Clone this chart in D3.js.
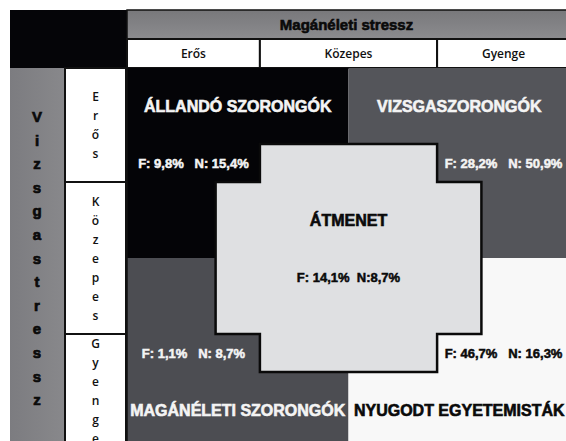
<!DOCTYPE html>
<html>
<head>
<meta charset="utf-8">
<script src="https://cdn.jsdelivr.net/npm/d3@7"></script>
<style>
  html, body { margin: 0; padding: 0; background: #fff; }
  svg { display: block; }
  text { white-space: pre; }
</style>
</head>
<body>
<div id="chart"></div>
<script>
// column / row categories
const headerTitle = "Magánéleti stressz";
const sideTitle = "Vizsgastressz";
const colLabels = ["Erős", "Közepes", "Gyenge"];
const rowLabels = ["Erős", "Közepes", "Gyenge"];

// groups: four corners + centre
const groupNames = ["ÁLLANDÓ SZORONGÓK", "VIZSGASZORONGÓK", "MAGÁNÉLETI SZORONGÓK", "NYUGODT EGYETEMISTÁK", "ÁTMENET"];
const groupF = [9.8, 28.2, 1.1, 46.7, 14.1];
const groupN = [15.4, 50.9, 8.7, 16.3, 8.7];

const width = 566, height = 441;

const svg = d3.select("#chart")
  .append("svg")
  .attr("width", width)
  .attr("height", height);

// grid units: 0..2 in both directions, middle band is 0.6..1.4
const x = d3.scaleLinear().domain([0, 2]).range([127, 570]);
const y = d3.scaleLinear().domain([0, 2]).range([68, 448]);
const bandEdges = [0, 0.6, 1.4, 2];
const crossOuter = 0.6, crossInner = 0.4;

const fmt = d3.formatLocale({ decimal: ",", thousands: " ", grouping: [3], currency: ["", ""] }).format(".1f");
const heavy = "'Liberation Sans', Arial, sans-serif";
const light = "'Open Sans', 'Noto Sans', sans-serif";

// top left black block
svg.append("rect")
  .attr("x", 10).attr("y", 10)
  .attr("width", x(0) - 10).attr("height", y(0) - 10)
  .attr("fill", "#050508");

// header gray bar
const grad = svg.append("defs").append("linearGradient")
  .attr("id", "hdr").attr("x1", 0).attr("y1", 0).attr("x2", 0).attr("y2", 1);
grad.append("stop").attr("offset", 0).attr("stop-color", "#78787b");
grad.append("stop").attr("offset", 1).attr("stop-color", "#8c8c8f");

svg.append("rect")
  .attr("x", x(0)).attr("y", 10)
  .attr("width", x(2) - x(0)).attr("height", 29)
  .attr("fill", "url(#hdr)")
  .attr("stroke", "#111").attr("stroke-width", 1.5);

svg.append("text")
  .attr("x", x(1) - 2).attr("y", 24)
  .attr("text-anchor", "middle").attr("dominant-baseline", "central")
  .attr("font-family", heavy).attr("font-weight", "bold").attr("font-size", 15)
  .attr("fill", "#0a0a0a").attr("stroke", "#0a0a0a").attr("stroke-width", 0.6)
  .text(headerTitle);

// column header cells
const colG = svg.append("g");
colLabels.forEach((lab, i) => {
  const x0 = x(bandEdges[i]), x1 = x(bandEdges[i + 1]);
  colG.append("rect")
    .attr("x", x0).attr("y", 39)
    .attr("width", x1 - x0).attr("height", y(0) - 39)
    .attr("fill", "#fff").attr("stroke", "#111").attr("stroke-width", 2);
  colG.append("text")
    .attr("x", (x0 + x1) / 2).attr("y", 53)
    .attr("text-anchor", "middle").attr("dominant-baseline", "central")
    .attr("font-family", light).attr("font-weight", 600).attr("font-size", 12).attr("fill", "#111")
    .text(lab);
});

// left gray side column
const grad2 = svg.select("defs").append("linearGradient")
  .attr("id", "side").attr("x1", 0).attr("y1", 0).attr("x2", 1).attr("y2", 0);
grad2.append("stop").attr("offset", 0).attr("stop-color", "#7c7c80");
grad2.append("stop").attr("offset", 1).attr("stop-color", "#88888b");

svg.append("rect")
  .attr("x", 10).attr("y", y(0))
  .attr("width", 54).attr("height", y(2) - y(0))
  .attr("fill", "url(#side)");

const sideLetters = sideTitle.split("");
const sideStep = 23.6;
svg.append("g").selectAll("text")
  .data(sideLetters)
  .join("text")
  .attr("x", 37)
  .attr("y", (d, i) => y(1) + (i - (sideLetters.length - 1) / 2) * sideStep)
  .attr("text-anchor", "middle").attr("dominant-baseline", "central")
  .attr("font-family", heavy).attr("font-weight", "bold").attr("font-size", 15)
  .attr("fill", "#0a0a0a").attr("stroke", "#0a0a0a").attr("stroke-width", 0.7)
  .text(d => d);

// row label cells (vertical letters)
const rowG = svg.append("g");
rowLabels.forEach((lab, i) => {
  const y0 = y(bandEdges[i]), y1 = y(bandEdges[i + 1]);
  rowG.append("rect")
    .attr("x", 65).attr("y", y0)
    .attr("width", 61).attr("height", y1 - y0)
    .attr("fill", "#fff").attr("stroke", "#111").attr("stroke-width", 2);
  const letters = lab.split("");
  const cy = (y0 + y1) / 2;
  rowG.append("g").selectAll("text")
    .data(letters)
    .join("text")
    .attr("x", 95.5)
    .attr("y", (d, j) => cy + (j - (letters.length - 1) / 2) * 19)
    .attr("text-anchor", "middle").attr("dominant-baseline", "central")
    .attr("font-family", light).attr("font-weight", 600).attr("font-size", 12).attr("fill", "#111")
    .text(d => d);
});

// four corner quadrants
const quadFill = ["#040407", "#54555a", "#4c4d52", "#f8f8f8"];
const quads = groupNames.slice(0, 4).map((name, i) => ({
  name, f: groupF[i], n: groupN[i], c: i % 2, r: Math.floor(i / 2), fill: quadFill[i]
}));

svg.append("g").selectAll("rect")
  .data(quads)
  .join("rect")
  .attr("x", d => x(d.c))
  .attr("y", d => y(d.r))
  .attr("width", d => x(d.c + 1) - x(d.c))
  .attr("height", d => y(d.r + 1) - y(d.r))
  .attr("fill", d => d.fill);

// border between row labels and main area
svg.append("line")
  .attr("x1", x(0) - 0.5).attr("x2", x(0) - 0.5)
  .attr("y1", y(0)).attr("y2", y(2))
  .attr("stroke", "#111").attr("stroke-width", 2.5);

// centre cross (ÁTMENET)
const cross = [
  [1 - crossInner, 1 - crossOuter], [1 + crossInner, 1 - crossOuter],
  [1 + crossInner, 1 - crossInner], [1 + crossOuter, 1 - crossInner],
  [1 + crossOuter, 1 + crossInner], [1 + crossInner, 1 + crossInner],
  [1 + crossInner, 1 + crossOuter], [1 - crossInner, 1 + crossOuter],
  [1 - crossInner, 1 + crossInner], [1 - crossOuter, 1 + crossInner],
  [1 - crossOuter, 1 - crossInner], [1 - crossInner, 1 - crossInner]
];
svg.append("path")
  .attr("d", d3.line().x(d => x(d[0])).y(d => y(d[1])).curve(d3.curveLinearClosed)(cross))
  .attr("fill", "#dfe0e2")
  .attr("stroke", "#0a0a0a").attr("stroke-width", 2.5);

// quadrant titles and F/N values
const textColor = ["#f4f4f4", "#f4f4f4", "#f4f4f4", "#0a0a0a"];
const labG = svg.append("g").attr("font-family", heavy).attr("font-weight", "bold");

quads.forEach((d, i) => {
  const col = textColor[i];
  const titleY = d.r === 0 ? 0.2 : 1.8;
  labG.append("text")
    .attr("x", x(d.c + 0.5)).attr("y", y(titleY))
    .attr("text-anchor", "middle").attr("dominant-baseline", "central")
    .attr("font-size", 16)
    .attr("fill", col).attr("stroke", col).attr("stroke-width", 0.6)
    .text(d.name);
  const statX = d.c === 0 ? (0 + 1 - crossInner) / 2 : (2 + 1 + crossInner) / 2;
  labG.append("text")
    .attr("x", x(statX)).attr("y", y(d.r + 0.5))
    .attr("text-anchor", "middle").attr("dominant-baseline", "central")
    .attr("font-size", 13)
    .attr("fill", col).attr("stroke", col).attr("stroke-width", 0.5)
    .text("F: " + fmt(d.f) + "%   N: " + fmt(d.n) + "%");
});

// centre labels
labG.append("text")
  .attr("x", x(1)).attr("y", y(0.8))
  .attr("text-anchor", "middle").attr("dominant-baseline", "central")
  .attr("font-size", 16)
  .attr("fill", "#0a0a0a").attr("stroke", "#0a0a0a").attr("stroke-width", 0.6)
  .text(groupNames[4]);
labG.append("text")
  .attr("x", x(1)).attr("y", y(1.1))
  .attr("text-anchor", "middle").attr("dominant-baseline", "central")
  .attr("font-size", 13)
  .attr("fill", "#0a0a0a").attr("stroke", "#0a0a0a").attr("stroke-width", 0.5)
  .text("F: " + fmt(groupF[4]) + "%  N:" + fmt(groupN[4]) + "%");
</script>
</body>
</html>
